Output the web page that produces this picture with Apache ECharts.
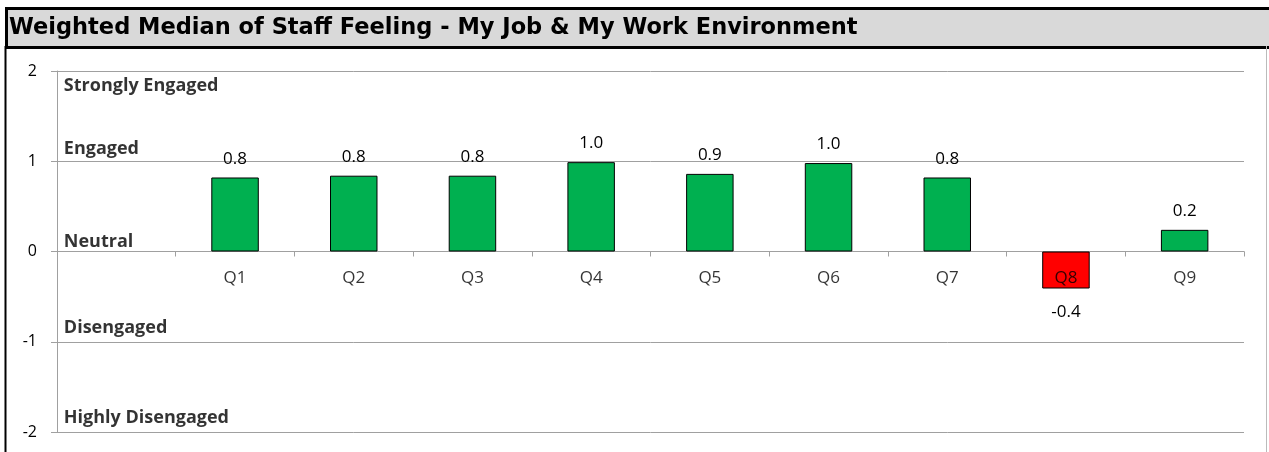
<!DOCTYPE html>
<html>
<head>
<meta charset="utf-8">
<script src="https://cdn.jsdelivr.net/npm/echarts@6/dist/echarts.min.js"></script>
<style>
  html, body { margin: 0; padding: 0; background: #fff; }
  #chart { width: 1269px; height: 452px; }
</style>
</head>
<body>
<div id="chart"></div>
<script>
// data
const categories = ['', 'Q1', 'Q2', 'Q3', 'Q4', 'Q5', 'Q6', 'Q7', 'Q8', 'Q9'];
const medians = [null, 0.82, 0.84, 0.84, 0.99, 0.86, 0.98, 0.82, -0.41, 0.24];
const bandNames = ['Strongly Engaged', 'Engaged', 'Neutral', 'Disengaged', 'Highly Disengaged'];
const bandLevels = [1.83, 1.13, 0.10, -0.85, -1.85];
const yTicks = [-2, -1, 0, 1, 2];

const FONT = '"Open Sans", sans-serif';
const hidden = { color: 'rgba(0,0,0,0)' };

const chart = echarts.init(document.getElementById('chart'));

const option = {
    animation: false,
    backgroundColor: '#fff',
    graphic: [
        // title bar
        {
            type: 'rect', left: 5, top: 7, z: 10,
            shape: { width: 1264, height: 39 },
            style: { fill: '#d9d9d9', stroke: '#000', lineWidth: 3 }
        },
        {
            type: 'text', left: 9, top: 17, z: 11,
            style: {
                text: 'Weighted Median of Staff Feeling - My Job & My Work Environment',
                font: 'bold 22.5px "DejaVu Sans", sans-serif', fill: '#000'
            }
        },
        // frame below the title
        { type: 'line', z: 10, shape: { x1: 5.5, y1: 46, x2: 5.5, y2: 452 }, style: { stroke: '#000', lineWidth: 2 } },
        { type: 'line', z: 10, shape: { x1: 1266.5, y1: 46, x2: 1266.5, y2: 452 }, style: { stroke: '#bbb', lineWidth: 1 } }
    ],
    grid: { left: 57, right: 25, top: 71, bottom: 20, containLabel: false, outerBoundsMode: 'none' },
    xAxis: {
        type: 'category',
        data: categories,
        axisLine: { show: true, onZero: true, lineStyle: { color: '#a0a0a0', width: 1 } },
        axisTick: { show: true, interval: 0, alignWithLabel: false, length: 5, lineStyle: { color: '#a0a0a0' } },
        axisLabel: { show: false, interval: 0 },
        splitLine: { show: false }
    },
    yAxis: {
        type: 'value',
        min: yTicks[0], max: yTicks[yTicks.length - 1], interval: 1,
        axisLine: { show: true, lineStyle: { color: '#a0a0a0' } },
        axisTick: { show: true, length: 6, lineStyle: { color: '#a0a0a0' } },
        axisLabel: { color: '#000', fontSize: 16, fontFamily: FONT, margin: 20 },
        splitLine: { show: true, lineStyle: { color: '#a0a0a0', width: 1 } }
    },
    series: [
        {
            type: 'bar',
            data: medians.map(v => v == null ? null : {
                value: v,
                itemStyle: { color: v < 0 ? '#ff0000' : '#00b050' },
                label: v < 0 ? { position: 'bottom', distance: 15 } : { position: 'top', distance: 10 }
            }),
            barWidth: '40%',
            itemStyle: { borderColor: '#000', borderWidth: 1 },
            label: {
                show: true,
                color: '#000', fontSize: 17, fontFamily: FONT,
                formatter: p => p.value.toFixed(1)
            }
        },
        {
            // category names, drawn under the zero line (above the red bar)
            type: 'scatter',
            symbolSize: 1,
            itemStyle: hidden,
            data: categories.map((c, i) => ({ value: [i, 0], name: c })),
            label: {
                show: true, position: 'bottom', distance: 18,
                color: '#000', fontSize: 17, fontFamily: FONT,
                formatter: p => p.name
            },
            z: 6
        },
        {
            // engagement band names in the empty first column
            type: 'scatter',
            symbolSize: 1,
            itemStyle: hidden,
            data: bandNames.map((n, i) => ({ value: [0, bandLevels[i]], name: n })),
            label: {
                show: true, position: [-52, 0],
                align: 'left', verticalAlign: 'middle',
                color: '#000', fontSize: 18, fontWeight: 'bold', fontFamily: FONT,
                formatter: p => p.name
            },
            z: 6
        }
    ]
};

chart.setOption(option);
</script>
</body>
</html>
